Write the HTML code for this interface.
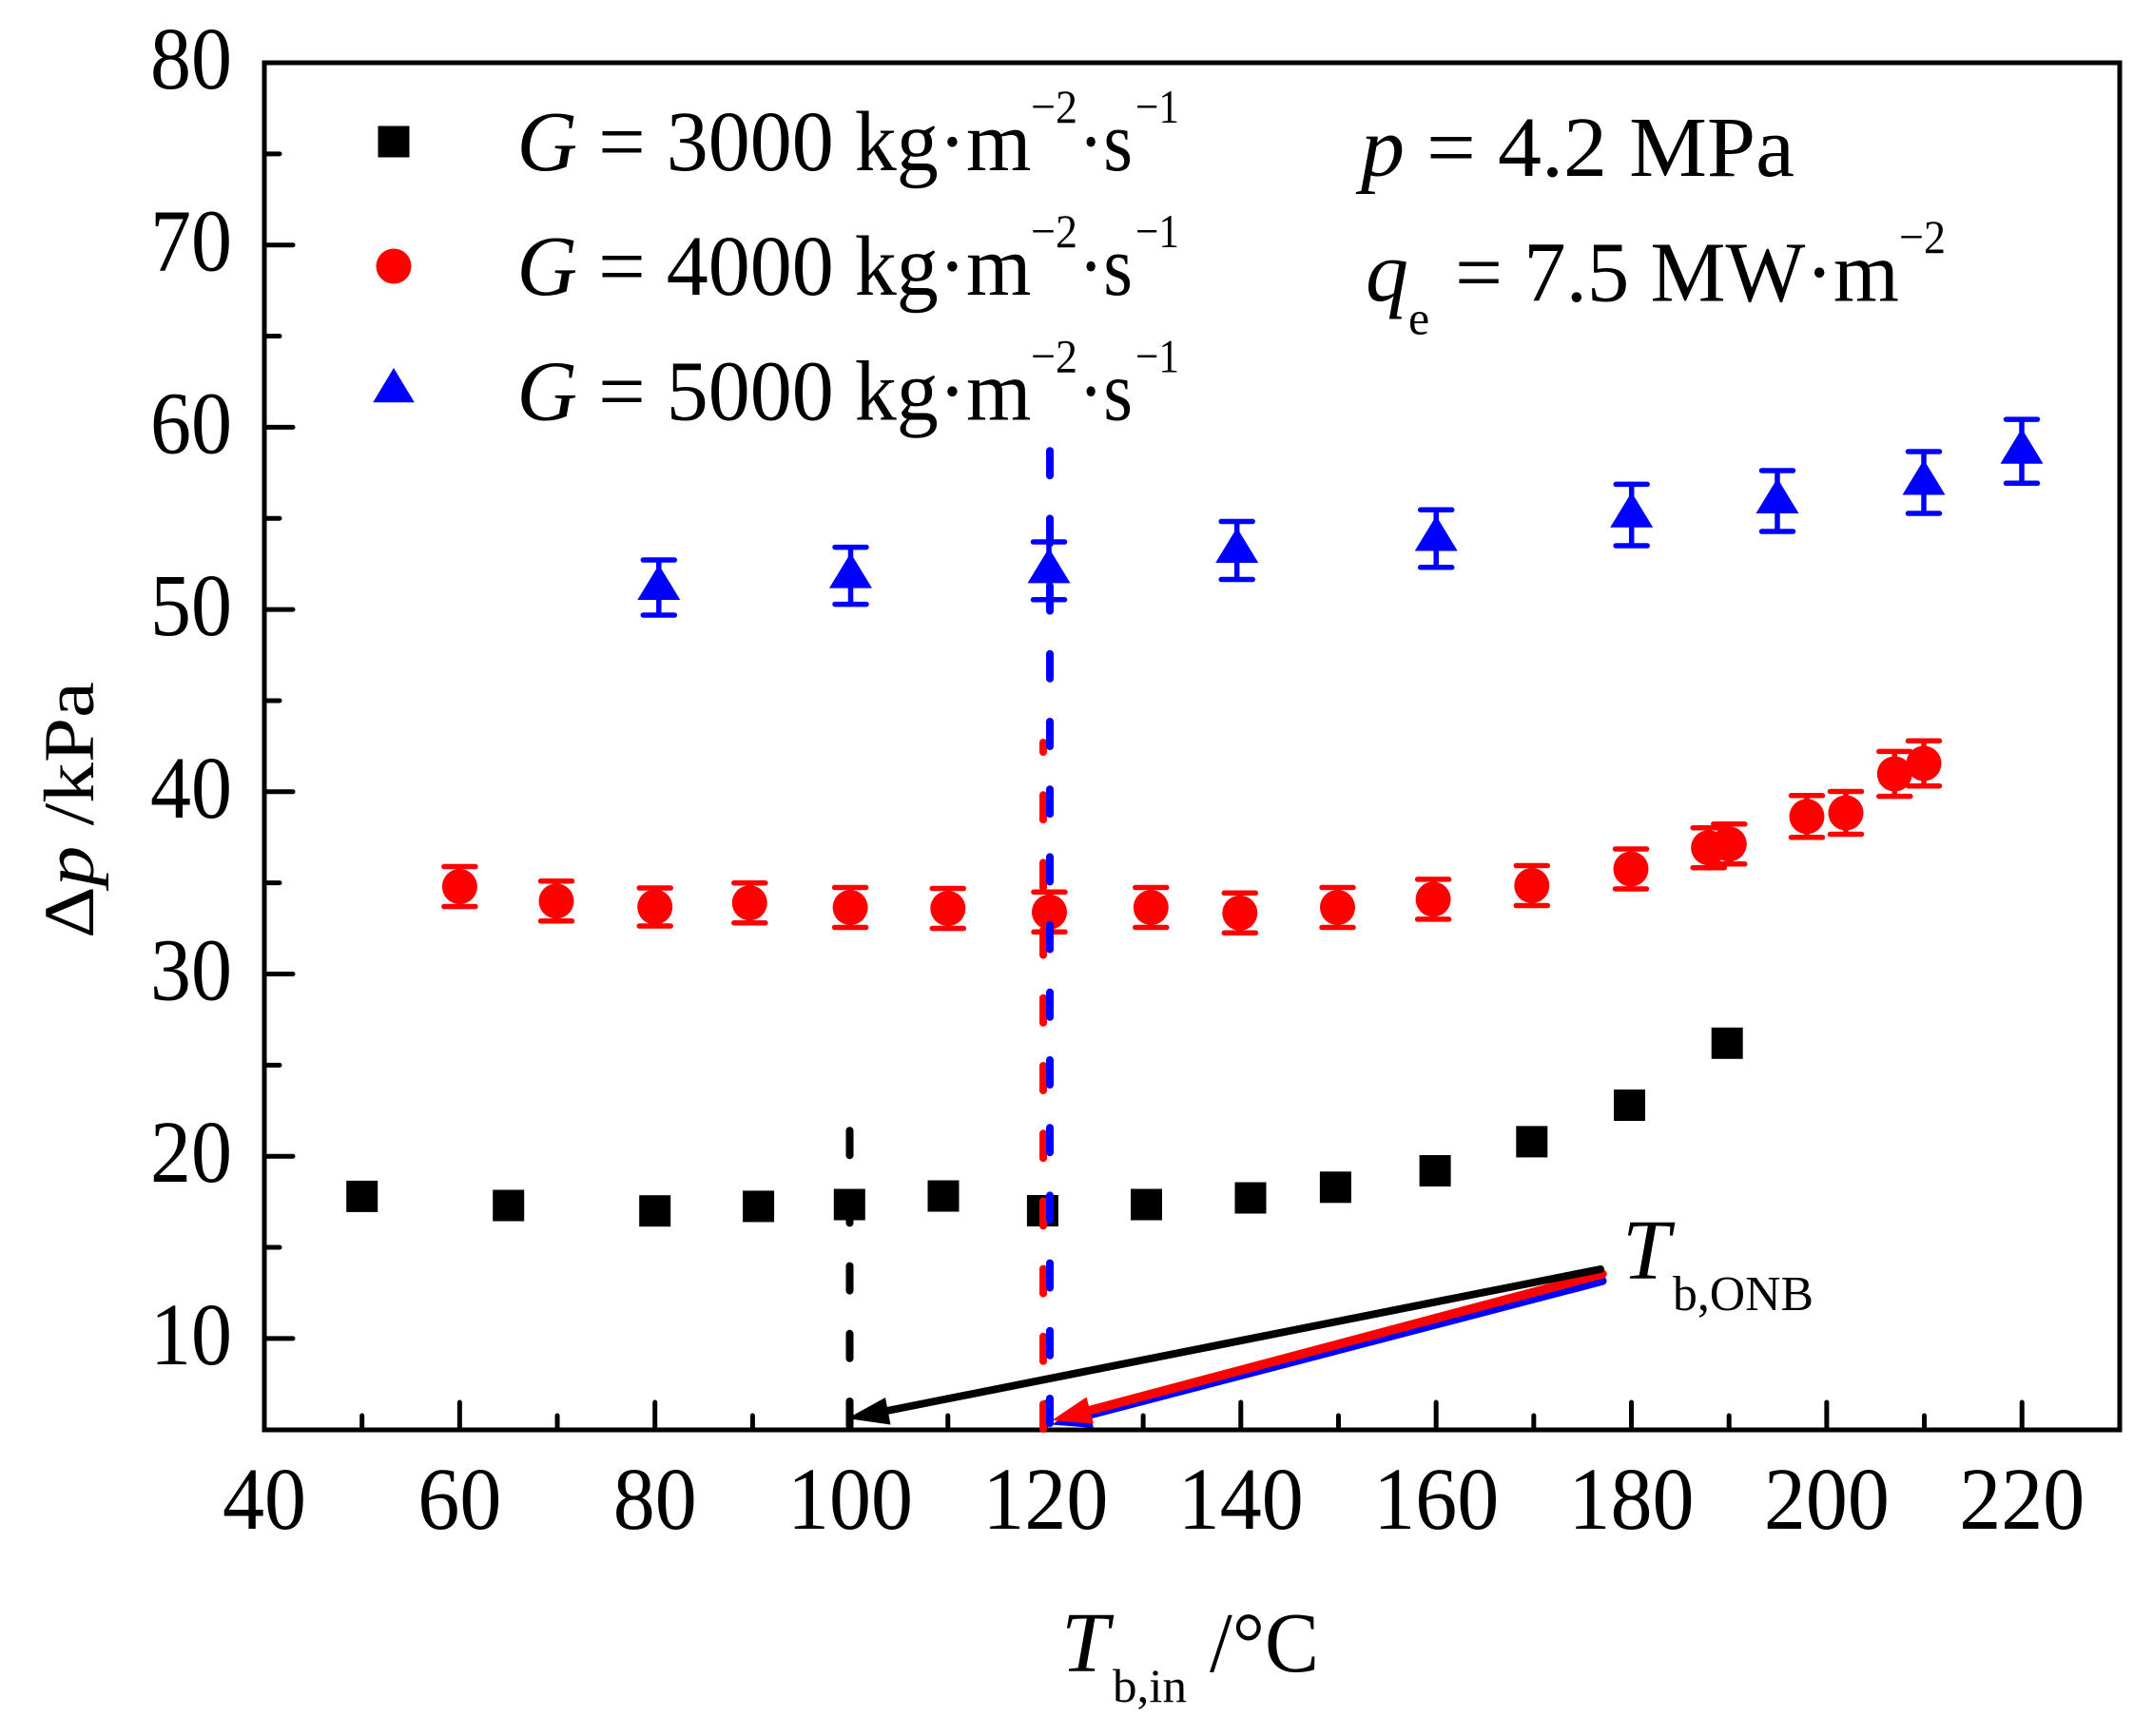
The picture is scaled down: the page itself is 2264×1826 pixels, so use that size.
<!DOCTYPE html>
<html>
<head>
<meta charset="utf-8">
<style>
html,body{margin:0;padding:0;background:#fff;}
svg{display:block;}
svg text{font-family:"Liberation Serif","Times New Roman",serif;}
</style>
</head>
<body>
<svg width="2264" height="1826" viewBox="0 0 2264 1826" xmlns="http://www.w3.org/2000/svg" font-family="Liberation Serif, serif">
<rect x="0" y="0" width="2264" height="1826" fill="#fff"/>

<!-- ticks -->
<g stroke="#000" stroke-width="5" stroke-linecap="round" fill="none">
  <path d="M278 1407.9H308 M278 1216.2H308 M278 1024.5H308 M278 832.8H308 M278 641.1H308 M278 449.4H308 M278 257.7H308"/>
  <path d="M278 1312.05H294 M278 1120.35H294 M278 928.65H294 M278 736.95H294 M278 545.25H294 M278 353.55H294 M278 161.85H294"/>
  <path d="M483.36 1504V1475 M688.72 1504V1475 M894.08 1504V1475 M1099.44 1504V1475 M1304.8 1504V1475 M1510.16 1504V1475 M1715.52 1504V1475 M1920.88 1504V1475 M2126.24 1504V1475"/>
  <path d="M380.68 1504V1489 M586.04 1504V1489 M791.4 1504V1489 M996.76 1504V1489 M1202.12 1504V1489 M1407.48 1504V1489 M1612.84 1504V1489 M1818.2 1504V1489 M2023.56 1504V1489"/>
</g>

<!-- frame -->
<rect x="278" y="66" width="1951" height="1438" fill="none" stroke="#000" stroke-width="5"/>

<!-- y tick labels -->
<g font-size="93" fill="#000">
  <text x="158" y="93" textLength="86" lengthAdjust="spacingAndGlyphs">80</text>
  <text x="158" y="284.7" textLength="86" lengthAdjust="spacingAndGlyphs">70</text>
  <text x="158" y="476.4" textLength="86" lengthAdjust="spacingAndGlyphs">60</text>
  <text x="158" y="668.1" textLength="86" lengthAdjust="spacingAndGlyphs">50</text>
  <text x="158" y="859.8" textLength="86" lengthAdjust="spacingAndGlyphs">40</text>
  <text x="158" y="1051.5" textLength="86" lengthAdjust="spacingAndGlyphs">30</text>
  <text x="158" y="1243.2" textLength="86" lengthAdjust="spacingAndGlyphs">20</text>
  <text x="158" y="1434.9" textLength="86" lengthAdjust="spacingAndGlyphs">10</text>
</g>

<!-- x tick labels -->
<g font-size="93" fill="#000">
  <text x="234" y="1608" textLength="88" lengthAdjust="spacingAndGlyphs">40</text>
  <text x="439.4" y="1608" textLength="88" lengthAdjust="spacingAndGlyphs">60</text>
  <text x="644.7" y="1608" textLength="88" lengthAdjust="spacingAndGlyphs">80</text>
  <text x="828" y="1608" textLength="132" lengthAdjust="spacingAndGlyphs">100</text>
  <text x="1033.4" y="1608" textLength="132" lengthAdjust="spacingAndGlyphs">120</text>
  <text x="1238.8" y="1608" textLength="132" lengthAdjust="spacingAndGlyphs">140</text>
  <text x="1444.2" y="1608" textLength="132" lengthAdjust="spacingAndGlyphs">160</text>
  <text x="1649.5" y="1608" textLength="132" lengthAdjust="spacingAndGlyphs">180</text>
  <text x="1854.9" y="1608" textLength="132" lengthAdjust="spacingAndGlyphs">200</text>
  <text x="2060.2" y="1608" textLength="132" lengthAdjust="spacingAndGlyphs">220</text>
</g>

<!-- axis titles -->
<text transform="translate(98,987) rotate(-90) scale(1,0.9)" font-size="84" textLength="270" lengthAdjust="spacingAndGlyphs" fill="#000">Δ<tspan font-style="italic">p</tspan> /kPa</text>

<text x="1116" y="1758" font-size="90" font-style="italic" fill="#000">T</text>
<text x="1170" y="1790" font-size="50" textLength="78" lengthAdjust="spacingAndGlyphs" fill="#000">b,in</text>
<text x="1272" y="1758" font-size="90" textLength="115" lengthAdjust="spacingAndGlyphs" fill="#000">/°C</text>

<!-- black squares -->
<g fill="#000">
  <rect x="364.2" y="1241.9" width="33" height="33"/>
  <rect x="518.2" y="1251.5" width="33" height="33"/>
  <rect x="672.2" y="1257.2" width="33" height="33"/>
  <rect x="781.1" y="1252.4" width="33" height="33"/>
  <rect x="876.8" y="1250.5" width="33" height="33"/>
  <rect x="975.5" y="1241.5" width="33" height="33"/>
  <rect x="1079.9" y="1257" width="33" height="33"/>
  <rect x="1189" y="1250.5" width="33" height="33"/>
  <rect x="1298.5" y="1243.5" width="33" height="33"/>
  <rect x="1387.9" y="1232.3" width="33" height="33"/>
  <rect x="1492.6" y="1215" width="33" height="33"/>
  <rect x="1594.3" y="1184.4" width="33" height="33"/>
  <rect x="1697" y="1146" width="33" height="33"/>
  <rect x="1799.7" y="1080.8" width="33" height="33"/>
</g>

<!-- red error bars -->
<g stroke="#ff0000" stroke-width="5.5" stroke-linecap="round" fill="none">
  <path d="M483.4 911.5V953.5 M466.9 911.5h33 M466.9 953.5h33"/>
  <path d="M585 926.8V968.8 M568.5 926.8h33 M568.5 968.8h33"/>
  <path d="M688.7 934V974 M672.2 934h33 M672.2 974h33"/>
  <path d="M788.3 928.7V970.7 M771.8 928.7h33 M771.8 970.7h33"/>
  <path d="M894.1 933.5V975.5 M877.6 933.5h33 M877.6 975.5h33"/>
  <path d="M996.8 934.5V976.5 M980.3 934.5h33 M980.3 976.5h33"/>
  <path d="M1103.5 938.3V980.3 M1087 938.3h33 M1087 980.3h33"/>
  <path d="M1210.3 933.5V975.5 M1193.8 933.5h33 M1193.8 975.5h33"/>
  <path d="M1303.8 939.3V981.3 M1287.3 939.3h33 M1287.3 981.3h33"/>
  <path d="M1406.5 933.5V975.5 M1390 933.5h33 M1390 975.5h33"/>
  <path d="M1507.1 924.9V966.9 M1490.6 924.9h33 M1490.6 966.9h33"/>
  <path d="M1610.8 910.5V952.5 M1594.3 910.5h33 M1594.3 952.5h33"/>
  <path d="M1715 893V935 M1698.5 893h33 M1698.5 935h33"/>
  <path d="M1796.7 870.7V912.7 M1780.2 870.7h33 M1780.2 912.7h33"/>
  <path d="M1818.3 866.8V908.8 M1801.8 866.8h33 M1801.8 908.8h33"/>
  <path d="M1900 836.8V880.8 M1883.5 836.8h33 M1883.5 880.8h33"/>
  <path d="M1941 832.5V877.5 M1924.5 832.5h33 M1924.5 877.5h33"/>
  <path d="M1992.3 790.4V837.6 M1975.8 790.4h33 M1975.8 837.6h33"/>
  <path d="M2023 779.3V826.7 M2006.5 779.3h33 M2006.5 826.7h33"/>
</g>
<!-- red circles -->
<g fill="#ff0000">
  <circle cx="483.4" cy="932.5" r="18.5"/>
  <circle cx="585" cy="947.8" r="18.5"/>
  <circle cx="688.7" cy="954" r="18.5"/>
  <circle cx="788.3" cy="949.7" r="18.5"/>
  <circle cx="894.1" cy="954.5" r="18.5"/>
  <circle cx="996.8" cy="955.5" r="18.5"/>
  <circle cx="1103.5" cy="959.3" r="18.5"/>
  <circle cx="1210.3" cy="954.5" r="18.5"/>
  <circle cx="1303.8" cy="960.3" r="18.5"/>
  <circle cx="1406.5" cy="954.5" r="18.5"/>
  <circle cx="1507.1" cy="945.9" r="18.5"/>
  <circle cx="1610.8" cy="931.5" r="18.5"/>
  <circle cx="1715" cy="914" r="18.5"/>
  <circle cx="1796.7" cy="891.7" r="18.5"/>
  <circle cx="1818.3" cy="887.8" r="18.5"/>
  <circle cx="1900" cy="858.8" r="18.5"/>
  <circle cx="1941" cy="855" r="18.5"/>
  <circle cx="1992.3" cy="814" r="18.5"/>
  <circle cx="2023" cy="803" r="18.5"/>
</g>

<!-- blue error bars -->
<g stroke="#0000ff" stroke-width="5.5" stroke-linecap="round" fill="none">
  <path d="M692.8 589V647 M676.3 589h33 M676.3 647h33"/>
  <path d="M894.5 575.6V635.6 M878 575.6h33 M878 635.6h33"/>
  <path d="M1103 570V630.8 M1086.5 570h33 M1086.5 630.8h33"/>
  <path d="M1300.7 548.5V609.5 M1284.2 548.5h33 M1284.2 609.5h33"/>
  <path d="M1510.2 536.2V596.8 M1493.7 536.2h33 M1493.7 596.8h33"/>
  <path d="M1715.7 509.4V574 M1699.2 509.4h33 M1699.2 574h33"/>
  <path d="M1869 495V559 M1852.5 495h33 M1852.5 559h33"/>
  <path d="M2023 475V540 M2006.5 475h33 M2006.5 540h33"/>
  <path d="M2126 441.1V508.3 M2109.5 441.1h33 M2109.5 508.3h33"/>
</g>
<!-- blue triangles -->
<g fill="#0000ff">
  <polygon points="692.8,594 670.3,631 715.3,631"/>
  <polygon points="894.5,581.6 872,618.6 917,618.6"/>
  <polygon points="1103,576.4 1080.5,613.4 1125.5,613.4"/>
  <polygon points="1300.7,555 1278.2,592 1323.2,592"/>
  <polygon points="1510.2,542.5 1487.7,579.5 1532.7,579.5"/>
  <polygon points="1715.7,517.7 1693.2,554.7 1738.2,554.7"/>
  <polygon points="1869,503 1846.5,540 1891.5,540"/>
  <polygon points="2023,483.5 2000.5,520.5 2045.5,520.5"/>
  <polygon points="2126,450.7 2103.5,487.7 2148.5,487.7"/>
</g>

<!-- dashed guide lines -->
<g stroke-width="8" stroke-linecap="round" fill="none" stroke-dasharray="26 45.2">
  <path d="M893.5 1500V1185" stroke="#000"/>
  <path d="M1097 1503V781" stroke="#ff0000"/>
  <path d="M1104 1497V471" stroke="#0000ff"/>
</g>

<!-- arrows -->
<g stroke-linecap="round">
  <line x1="1685" y1="1347.3" x2="1142" y2="1489" stroke="#0000ff" stroke-width="9"/>
  <polygon points="1106,1498.5 1150,1502 1142.7,1474" fill="#0000ff"/>
  <line x1="1685" y1="1340" x2="1142" y2="1484.5" stroke="#ff0000" stroke-width="9.5"/>
  <polygon points="1106,1494 1150,1497.5 1142.5,1469.5" fill="#ff0000"/>
  <line x1="1683" y1="1335" x2="930" y2="1484.5" stroke="#000" stroke-width="8"/>
  <polygon points="891,1492 936.5,1498.5 931,1470" fill="#000"/>
</g>

<!-- T_b,ONB label -->
<text x="1706" y="1345" font-size="90" font-style="italic" fill="#000">T</text>
<text x="1759" y="1378" font-size="52" textLength="148" lengthAdjust="spacingAndGlyphs" fill="#000">b,ONB</text>

<!-- legend -->
<rect x="397.5" y="132.5" width="33" height="33" fill="#000"/>
<circle cx="414" cy="280" r="18.5" fill="#ff0000"/>
<polygon points="414,387 392.2,423.3 435.8,423.3" fill="#0000ff"/>

<g fill="#000">
  <text x="543.5" y="179" font-size="90" textLength="541" lengthAdjust="spacingAndGlyphs"><tspan font-style="italic">G</tspan> = 3000 kg·m</text>
  <text x="1084" y="129" font-size="50" textLength="49" lengthAdjust="spacingAndGlyphs">−2</text>
  <text x="1134" y="179" font-size="90" textLength="57" lengthAdjust="spacingAndGlyphs">·s</text>
  <text x="1194" y="129" font-size="50" textLength="46" lengthAdjust="spacingAndGlyphs">−1</text>

  <text x="543.5" y="310" font-size="90" textLength="541" lengthAdjust="spacingAndGlyphs"><tspan font-style="italic">G</tspan> = 4000 kg·m</text>
  <text x="1084" y="260" font-size="50" textLength="49" lengthAdjust="spacingAndGlyphs">−2</text>
  <text x="1134" y="310" font-size="90" textLength="57" lengthAdjust="spacingAndGlyphs">·s</text>
  <text x="1194" y="260" font-size="50" textLength="46" lengthAdjust="spacingAndGlyphs">−1</text>

  <text x="543.5" y="441.7" font-size="90" textLength="541" lengthAdjust="spacingAndGlyphs"><tspan font-style="italic">G</tspan> = 5000 kg·m</text>
  <text x="1084" y="391.7" font-size="50" textLength="49" lengthAdjust="spacingAndGlyphs">−2</text>
  <text x="1134" y="441.7" font-size="90" textLength="57" lengthAdjust="spacingAndGlyphs">·s</text>
  <text x="1194" y="391.7" font-size="50" textLength="46" lengthAdjust="spacingAndGlyphs">−1</text>
</g>

<!-- condition annotations -->
<g fill="#000">
  <text x="1431" y="185" font-size="90" textLength="456" lengthAdjust="spacingAndGlyphs"><tspan font-style="italic">p</tspan> = 4.2 MPa</text>
  <text x="1436" y="316.7" font-size="90" font-style="italic">q</text>
  <text x="1481" y="351.7" font-size="50">e</text>
  <text x="1530" y="316.7" font-size="90" textLength="467" lengthAdjust="spacingAndGlyphs">= 7.5 MW·m</text>
  <text x="1997" y="266" font-size="50" textLength="49" lengthAdjust="spacingAndGlyphs">−2</text>
</g>
</svg>
</body>
</html>
